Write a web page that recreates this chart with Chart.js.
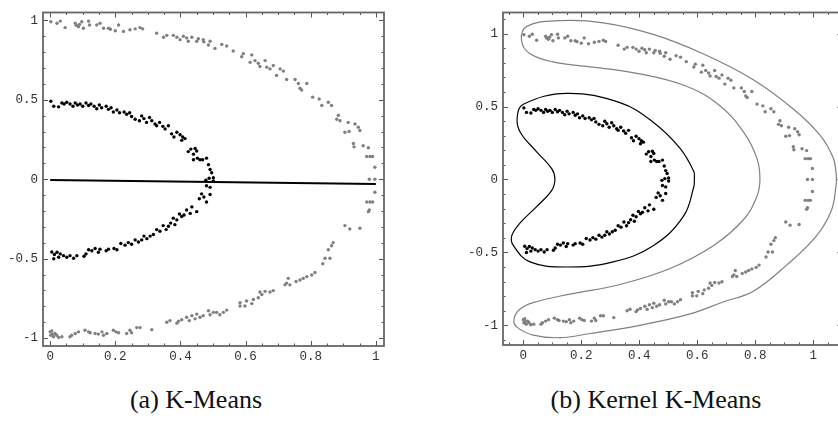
<!DOCTYPE html>
<html>
<head>
<meta charset="utf-8">
<script src="https://cdn.jsdelivr.net/npm/chart.js@4.4.1/dist/chart.umd.min.js"></script>
<style>
  body { margin: 0; background: #fff; overflow: hidden; width: 838px; height: 429px; position: relative; }
  .panel { position: absolute; top: 0; }
  .caption { position: absolute; top: 385px; font-family: "Liberation Serif", "DejaVu Serif", serif; font-size: 26px; line-height: 30px; color: #111; transform: translateX(-50%); white-space: nowrap; }
</style>
</head>
<body>
<div class="panel" style="left:0px; width:420px; height:372px;"><canvas id="kmeans" width="420" height="372"></canvas></div>
<div class="panel" style="left:440px; width:420px; height:372px;"><canvas id="kernel" width="420" height="372"></canvas></div>
<div class="caption" style="left:196px;">(a) K-Means</div>
<div class="caption" style="left:656px;">(b) Kernel K-Means</div>
<script>
// outer half ring (grey cluster)
var outerRing = [
  [0.002,0.992],[0.021,0.982],[0.031,0.996],[0.046,0.955],[0.077,0.982],[0.087,0.961],[0.097,0.992],[0.102,0.951],
  [0.118,0.996],[0.121,0.971],[0.143,0.971],[0.153,0.982],[0.164,0.951],[0.179,0.951],[0.2,0.935],[0.21,0.971],
  [0.225,0.931],[0.245,0.941],[0.261,0.947],[0.276,0.955],[0.284,0.947],[0.08,0.97],[0.09,0.975],[0.185,0.945],
  [0.327,0.92],[0.348,0.894],[0.358,0.906],[0.378,0.906],[0.389,0.894],[0.399,0.879],[0.409,0.9],[0.419,0.89],
  [0.424,0.869],[0.435,0.894],[0.45,0.869],[0.455,0.885],[0.47,0.879],[0.472,0.865],[0.486,0.845],[0.491,0.869],
  [0.506,0.824],[0.527,0.849],[0.542,0.839],[0.562,0.808],[0.588,0.771],[0.593,0.791],[0.614,0.736],[0.619,0.783],
  [0.629,0.747],[0.639,0.73],[0.644,0.71],[0.66,0.747],[0.665,0.706],[0.675,0.695],[0.685,0.716],[0.695,0.654],
  [0.706,0.695],[0.716,0.681],[0.726,0.628],[0.752,0.628],[0.762,0.603],[0.767,0.573],[0.772,0.562],[0.788,0.603],
  [0.806,0.517],[0.826,0.505],[0.834,0.464],[0.854,0.485],[0.864,0.464],[0.88,0.378],[0.885,0.403],[0.89,0.368],
  [0.905,0.296],[0.915,0.358],[0.918,0.301],[0.931,0.225],[0.933,0.204],[0.936,0.348],[0.946,0.327],[0.951,0.307],
  [0.961,0.211],[0.977,0.198],[0.972,0.143],[0.982,0.143],[0.99,0.143],[0.997,0.076],[0.98,0],[0.997,0],
  [0.997,-0.082],[0.972,-0.143],[0.982,-0.143],[0.99,-0.143],[0.977,-0.204],[0.98,-0.194],[0.905,-0.292],[0.92,-0.313],
  [0.951,-0.309],[0.869,-0.399],[0.864,-0.419],[0.854,-0.444],[0.844,-0.497],[0.837,-0.532],[0.859,-0.497],[0.813,-0.587],
  [0.803,-0.603],[0.788,-0.613],[0.777,-0.624],[0.767,-0.634],[0.755,-0.644],[0.736,-0.665],[0.731,-0.624],[0.726,-0.654],
  [0.721,-0.665],[0.685,-0.701],[0.675,-0.71],[0.66,-0.706],[0.65,-0.726],[0.644,-0.71],[0.639,-0.746],[0.624,-0.757],
  [0.619,-0.783],[0.603,-0.767],[0.598,-0.798],[0.583,-0.798],[0.583,-0.777],[0.542,-0.824],[0.532,-0.838],[0.521,-0.853],
  [0.511,-0.838],[0.501,-0.838],[0.491,-0.853],[0.486,-0.828],[0.47,-0.859],[0.46,-0.869],[0.45,-0.849],[0.445,-0.879],
  [0.435,-0.859],[0.427,-0.89],[0.419,-0.869],[0.404,-0.885],[0.394,-0.894],[0.389,-0.906],[0.368,-0.89],[0.358,-0.9],
  [0,-0.961],[0.002,-0.982],[0.01,-0.992],[0.015,-0.971],[0.02,-0.982],[0.026,-0.996],[0.036,-0.992],[0.061,-0.992],
  [0.066,-0.982],[0.077,-0.971],[0.087,-0.961],[0.107,-0.951],[0.118,-0.961],[0.123,-0.967],[0.138,-0.971],[0.148,-0.975],
  [0.159,-0.961],[0.164,-0.982],[0.174,-0.971],[0.194,-0.951],[0.202,-0.961],[0.21,-0.967],[0.235,-0.971],[0.245,-0.951],
  [0.25,-0.967],[0.266,-0.934],[0.276,-0.934],[0.312,-0.947],[0.005,-0.955],[0.007,-0.975]
];

// inner half ring (black cluster)
var innerRing = [
  [0.002,0.491],[0.011,0.46],[0.026,0.456],[0.036,0.48],[0.043,0.474],[0.051,0.485],[0.061,0.474],[0.07,0.46],
  [0.077,0.48],[0.084,0.468],[0.092,0.474],[0.1,0.46],[0.11,0.48],[0.118,0.464],[0.125,0.474],[0.135,0.46],
  [0.143,0.444],[0.151,0.468],[0.158,0.45],[0.172,0.46],[0.179,0.44],[0.187,0.45],[0.194,0.423],[0.205,0.436],
  [0.213,0.419],[0.227,0.423],[0.235,0.409],[0.244,0.419],[0.25,0.395],[0.261,0.378],[0.274,0.368],[0.281,0.399],
  [0.288,0.382],[0.296,0.358],[0.305,0.389],[0.312,0.368],[0.322,0.348],[0.327,0.337],[0.336,0.358],[0.346,0.333],
  [0.353,0.317],[0.363,0.337],[0.373,0.286],[0.38,0.266],[0.389,0.296],[0.399,0.28],[0.404,0.245],[0.407,0.266],
  [0.414,0.256],[0.424,0.174],[0.432,0.19],[0.44,0.158],[0.445,0.194],[0.45,0.178],[0.44,0.123],[0.452,0.133],
  [0.46,0.123],[0.468,0.123],[0.48,0.133],[0.486,0.092],[0.491,0.061],[0.496,0.041],[0.501,0.01],[0.488,0.006],
  [0.478,-0.006],[0.501,-0.01],[0.48,-0.041],[0.491,-0.051],[0.465,-0.092],[0.491,-0.096],[0.472,-0.112],[0.48,-0.143],
  [0.458,-0.123],[0.45,-0.204],[0.435,-0.174],[0.43,-0.215],[0.419,-0.194],[0.411,-0.225],[0.404,-0.235],[0.397,-0.219],
  [0.389,-0.256],[0.378,-0.245],[0.383,-0.286],[0.37,-0.276],[0.363,-0.296],[0.356,-0.317],[0.347,-0.292],[0.337,-0.327],
  [0.327,-0.317],[0.317,-0.348],[0.307,-0.358],[0.297,-0.374],[0.288,-0.358],[0.281,-0.382],[0.271,-0.395],[0.261,-0.382],
  [0.25,-0.409],[0.24,-0.399],[0.23,-0.415],[0.217,-0.405],[0.205,-0.444],[0.196,-0.436],[0.179,-0.44],[0.172,-0.45],
  [0.153,-0.44],[0.148,-0.46],[0.138,-0.436],[0.128,-0.45],[0.118,-0.444],[0.11,-0.47],[0.104,-0.485],[0.082,-0.481],
  [0.072,-0.497],[0.061,-0.481],[0.051,-0.491],[0.041,-0.481],[0.031,-0.47],[0.026,-0.491],[0.021,-0.46],[0.013,-0.474],
  [0.005,-0.458],[0.011,-0.501]
];

// k-means separating line (panel a)
var kmeansLine = [[0,-0.004],[1,-0.03]];

// kernel k-means contours (panel b), start/end on a near-straight stretch
var innerContour = [
  [0.59,0.003],[0.588,-0.05],[0.552,-0.253],[0.448,-0.454],[0.31,-0.565],[0.15,-0.6],[0.023,-0.565],[-0.034,-0.454],[-0.04,-0.387],
  [-0.011,-0.298],[0.046,-0.186],[0.098,-0.075],[0.109,0.003],[0.098,0.075],[0.046,0.19],[-0.011,0.326],[-0.021,0.427],
  [0,0.516],[0.15,0.59],[0.333,0.527],[0.448,0.393],[0.54,0.215],[0.588,0.055],[0.59,0.003]
];
var outerContour = [
  [1.08,0.003],[1.078,-0.05],[1.063,-0.209],[1.011,-0.387],[0.908,-0.587],[0.793,-0.766],[0.689,-0.84],[0.575,-0.922],[0.402,-1.0],
  [0.23,-1.056],[0.127,-1.085],[0.034,-1.067],[-0.023,-1.011],[-0.032,-0.955],[-0.011,-0.888],[0.034,-0.844],[0.161,-0.786],
  [0.333,-0.72],[0.506,-0.61],[0.655,-0.454],[0.759,-0.276],[0.805,-0.119],[0.816,0.003],[0.805,0.148],[0.759,0.326],
  [0.678,0.505],[0.563,0.639],[0.391,0.728],[0.218,0.775],[0.103,0.806],[0.023,0.862],[-0.006,0.951],[0.012,1.05],
  [0.127,1.089],[0.276,1.074],[0.448,0.995],[0.62,0.862],[0.793,0.684],[0.931,0.483],[1.023,0.304],[1.069,0.148],[1.078,0.055],[1.08,0.003]
];

var xTickValues = [0, 0.2, 0.4, 0.6, 0.8, 1];
var yTickValuesA = [-1, -0.5, 0, 0.5, 1];
var yTickValuesB = [-1, -0.5, 0, 0.5, 1];

var frameTicks = {
  id: 'frameTicks',
  afterDraw: function(chart) {
    var ctx = chart.ctx, a = chart.chartArea;
    var xs = chart.scales.x, ys = chart.scales.y;
    ctx.save();
    ctx.strokeStyle = '#555';
    ctx.lineWidth = 1;
    var k, v, p, len;
    for (k = Math.ceil(xs.min / 0.05); k * 0.05 <= xs.max; k++) {
      v = k * 0.05;
      p = Math.round(xs.getPixelForValue(v)) + 0.5;
      len = (Math.abs(k % 4) === 0) ? 5 : 2.5;
      ctx.beginPath();
      ctx.moveTo(p, a.bottom); ctx.lineTo(p, a.bottom - len);
      ctx.moveTo(p, a.top); ctx.lineTo(p, a.top + len);
      ctx.stroke();
    }
    for (k = Math.ceil(ys.min / 0.1); k * 0.1 <= ys.max; k++) {
      v = k * 0.1;
      p = Math.round(ys.getPixelForValue(v)) + 0.5;
      len = (Math.abs(k % 5) === 0) ? 5 : 2.5;
      ctx.beginPath();
      ctx.moveTo(a.left, p); ctx.lineTo(a.left + len, p);
      ctx.moveTo(a.right, p); ctx.lineTo(a.right - len, p);
      ctx.stroke();
    }
    ctx.lineWidth = 1.8;
    ctx.strokeStyle = '#666';
    ctx.strokeRect(a.left, a.top, a.right - a.left, a.bottom - a.top);
    ctx.restore();
  }
};

function dots(pts, color) {
  return {
    data: pts.map(function(p) { return {x: p[0], y: p[1]}; }),
    pointRadius: 1.7, pointHoverRadius: 1.7, pointBorderWidth: 0,
    backgroundColor: color, borderColor: color, showLine: false
  };
}
function curve(pts, color, width, tension) {
  return {
    data: pts.map(function(p) { return {x: p[0], y: p[1]}; }),
    showLine: true, pointRadius: 0, borderColor: color, borderWidth: width,
    tension: tension, fill: false
  };
}

function makePanel(id, datasets, xr, yr, yTicks, yWidth, xHeight, padRight) {
  return new Chart(document.getElementById(id), {
    type: 'scatter',
    data: { datasets: datasets },
    options: {
      responsive: false,
      animation: false,
      events: [],
      layout: { padding: { top: 4, right: padRight, left: 0, bottom: 0 } },
      plugins: { legend: { display: false }, tooltip: { enabled: false } },
      scales: {
        x: {
          type: 'linear', min: xr[0], max: xr[1],
          grid: { display: false, drawTicks: false },
          border: { display: false },
          afterBuildTicks: function(s) { s.ticks = xTickValues.map(function(v) { return {value: v}; }); },
          afterFit: function(s) { s.height = xHeight; },
          ticks: { padding: 3, color: '#333', maxRotation: 0, autoSkip: false,
                   font: { family: 'Liberation Mono', size: 12.5 },
                   callback: function(v) { return String(v); } }
        },
        y: {
          type: 'linear', min: yr[0], max: yr[1],
          grid: { display: false, drawTicks: false },
          border: { display: false },
          afterBuildTicks: function(s) { s.ticks = yTicks.map(function(v) { return {value: v}; }); },
          afterFit: function(s) { s.width = yWidth; },
          ticks: { padding: 5, color: '#333', autoSkip: false,
                   font: { family: 'Liberation Mono', size: 12.5 },
                   callback: function(v) { return String(v); } }
        }
      }
    },
    plugins: [frameTicks]
  });
}

makePanel('kmeans', [
  dots(innerRing, '#000'),
  dots(outerRing, '#808080'),
  curve(kmeansLine, '#000', 2, 0)
], [-0.022, 1.025], [-1.05, 1.05], yTickValuesA, 43, 26, 36);

makePanel('kernel', [
  dots(innerRing, '#000'),
  dots(outerRing, '#808080'),
  curve(innerContour, '#000', 1.2, 0.4),
  curve(outerContour, '#808080', 1.2, 0.4)
], [-0.07, 1.1], [-1.135, 1.145], yTickValuesB, 63, 27, 17.7);
</script>
</body>
</html>
